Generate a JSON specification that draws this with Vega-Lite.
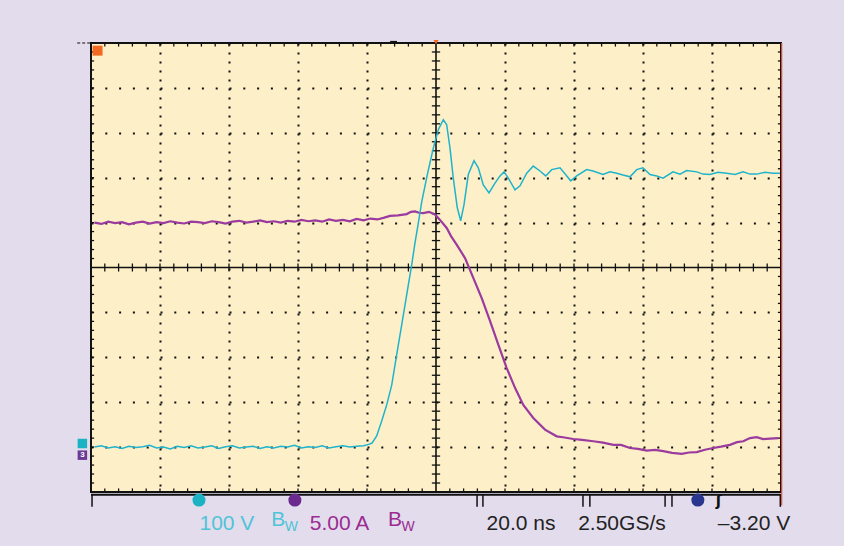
{
  "$schema": "https://vega.github.io/schema/vega-lite/v6.json",
  "width": 690,
  "height": 449,
  "autosize": {"type": "none"},
  "padding": {"left": 91, "top": 43, "right": 63, "bottom": 54},
  "background": "#e3dcec",
  "config": {
    "view": {"fill": "#fdf0c8", "stroke": "#111111", "strokeWidth": 2},
    "font": "Liberation Sans"
  },
  "datasets": {
    "one": [{"k": 1}],
    "ch1": [
      {"t": -99, "v": -4.00}, {"t": -97, "v": -3.97}, {"t": -95, "v": -4.02}, {"t": -93, "v": -3.99},
      {"t": -91, "v": -4.03}, {"t": -89, "v": -3.98}, {"t": -87, "v": -4.01}, {"t": -85, "v": -3.99},
      {"t": -83, "v": -3.96}, {"t": -81, "v": -4.02}, {"t": -79, "v": -4.00}, {"t": -77, "v": -4.04},
      {"t": -75, "v": -3.98}, {"t": -73, "v": -4.01}, {"t": -71, "v": -3.97}, {"t": -69, "v": -4.02},
      {"t": -67, "v": -4.00}, {"t": -65, "v": -3.97}, {"t": -63, "v": -4.03}, {"t": -61, "v": -3.99},
      {"t": -59, "v": -3.97}, {"t": -57, "v": -4.02}, {"t": -55, "v": -4.00}, {"t": -53, "v": -3.98},
      {"t": -51, "v": -4.03}, {"t": -49, "v": -3.99}, {"t": -47, "v": -4.02}, {"t": -45, "v": -3.98},
      {"t": -43, "v": -4.00}, {"t": -41, "v": -3.96}, {"t": -39, "v": -4.02}, {"t": -37, "v": -3.99},
      {"t": -35, "v": -4.01}, {"t": -33, "v": -3.97}, {"t": -31, "v": -4.02}, {"t": -29, "v": -3.99},
      {"t": -27, "v": -3.97}, {"t": -25, "v": -4.00}, {"t": -23, "v": -3.98}, {"t": -21, "v": -3.97},
      {"t": -19.5, "v": -3.94}, {"t": -18.55, "v": -3.91}, {"t": -17.19, "v": -3.75}, {"t": -15.74, "v": -3.42},
      {"t": -14.29, "v": -3.06}, {"t": -12.84, "v": -2.62}, {"t": -11.88, "v": -2.17}, {"t": -10.93, "v": -1.73},
      {"t": -9.94, "v": -1.28}, {"t": -8.99, "v": -0.84}, {"t": -8.03, "v": -0.39}, {"t": -7.04, "v": 0.06},
      {"t": -6.09, "v": 0.55}, {"t": -5.13, "v": 0.99}, {"t": -4.14, "v": 1.46}, {"t": -3.19, "v": 1.82},
      {"t": -2.23, "v": 2.17}, {"t": -0.78, "v": 2.66}, {"t": 0.67, "v": 3.07}, {"t": 2.12, "v": 3.29},
      {"t": 3.10, "v": 3.18}, {"t": 4.06, "v": 2.66}, {"t": 5.01, "v": 1.99}, {"t": 6.17, "v": 1.33},
      {"t": 7.16, "v": 1.04}, {"t": 8.12, "v": 1.40}, {"t": 9.36, "v": 2.07}, {"t": 11.01, "v": 2.38},
      {"t": 12.26, "v": 2.22}, {"t": 13.71, "v": 1.84}, {"t": 15.36, "v": 1.66}, {"t": 17.10, "v": 1.88},
      {"t": 18.55, "v": 2.04}, {"t": 19.71, "v": 2.13}, {"t": 20.96, "v": 1.99}, {"t": 22.90, "v": 1.73},
      {"t": 24.35, "v": 1.82}, {"t": 26.29, "v": 2.10}, {"t": 28.20, "v": 2.26}, {"t": 30.14, "v": 2.15},
      {"t": 31.80, "v": 2.04}, {"t": 33.54, "v": 2.18}, {"t": 35.94, "v": 2.22}, {"t": 37.68, "v": 2.06},
      {"t": 39.04, "v": 1.93}, {"t": 40.78, "v": 2.04}, {"t": 43.68, "v": 2.18}, {"t": 45.51, "v": 2.15},
      {"t": 48.41, "v": 2.07}, {"t": 50.43, "v": 2.13}, {"t": 52.38, "v": 2.10}, {"t": 54.20, "v": 2.06},
      {"t": 56.23, "v": 2.02}, {"t": 58.17, "v": 2.18}, {"t": 60.00, "v": 2.22}, {"t": 62.03, "v": 2.07},
      {"t": 63.97, "v": 2.04}, {"t": 65.80, "v": 1.99}, {"t": 68.70, "v": 2.13}, {"t": 70.72, "v": 2.08},
      {"t": 72.67, "v": 2.16}, {"t": 75.57, "v": 2.13}, {"t": 77.39, "v": 2.08}, {"t": 79.42, "v": 2.07},
      {"t": 81.74, "v": 2.12}, {"t": 84.26, "v": 2.10}, {"t": 86.67, "v": 2.07}, {"t": 88.99, "v": 2.13},
      {"t": 91.01, "v": 2.08}, {"t": 92.96, "v": 2.08}, {"t": 95.36, "v": 2.12}, {"t": 97.68, "v": 2.10},
      {"t": 99.71, "v": 2.10}
    ],
    "ch3": [
      {"t": -99, "v": 1.00}, {"t": -97, "v": 0.97}, {"t": -95, "v": 1.02}, {"t": -93, "v": 0.99},
      {"t": -91, "v": 1.01}, {"t": -89, "v": 0.96}, {"t": -87, "v": 1.00}, {"t": -85, "v": 1.02},
      {"t": -83, "v": 0.98}, {"t": -81, "v": 1.01}, {"t": -79, "v": 0.99}, {"t": -77, "v": 1.03},
      {"t": -75, "v": 1.00}, {"t": -73, "v": 0.98}, {"t": -71, "v": 1.02}, {"t": -69, "v": 1.01},
      {"t": -67, "v": 0.99}, {"t": -65, "v": 1.03}, {"t": -63, "v": 1.01}, {"t": -61, "v": 0.98},
      {"t": -59, "v": 1.02}, {"t": -57, "v": 1.04}, {"t": -55, "v": 1.00}, {"t": -53, "v": 1.02},
      {"t": -51, "v": 1.05}, {"t": -49, "v": 1.01}, {"t": -47, "v": 1.03}, {"t": -45, "v": 1.00},
      {"t": -43, "v": 1.04}, {"t": -41, "v": 1.02}, {"t": -39, "v": 1.06}, {"t": -37, "v": 1.03},
      {"t": -35, "v": 1.05}, {"t": -33, "v": 1.02}, {"t": -31, "v": 1.07}, {"t": -29, "v": 1.04},
      {"t": -27, "v": 1.06}, {"t": -25, "v": 1.03}, {"t": -23, "v": 1.08}, {"t": -21, "v": 1.05},
      {"t": -19, "v": 1.09}, {"t": -17, "v": 1.07}, {"t": -15, "v": 1.11}, {"t": -13.33, "v": 1.15},
      {"t": -11.01, "v": 1.16}, {"t": -8.49, "v": 1.19}, {"t": -7.25, "v": 1.24}, {"t": -6.09, "v": 1.25},
      {"t": -4.93, "v": 1.22}, {"t": -3.68, "v": 1.21}, {"t": -2.03, "v": 1.24}, {"t": -0.29, "v": 1.18},
      {"t": 1.16, "v": 1.06}, {"t": 3.10, "v": 0.88}, {"t": 4.35, "v": 0.70}, {"t": 5.99, "v": 0.51},
      {"t": 8.41, "v": 0.21}, {"t": 10.81, "v": -0.23}, {"t": 13.25, "v": -0.68}, {"t": 15.65, "v": -1.19},
      {"t": 18.06, "v": -1.72}, {"t": 20.49, "v": -2.24}, {"t": 22.90, "v": -2.68}, {"t": 25.30, "v": -3.06},
      {"t": 28.20, "v": -3.35}, {"t": 31.59, "v": -3.61}, {"t": 34.99, "v": -3.76}, {"t": 36.81, "v": -3.78},
      {"t": 39.80, "v": -3.82}, {"t": 42.32, "v": -3.84}, {"t": 45.59, "v": -3.87}, {"t": 48.41, "v": -3.90},
      {"t": 51.39, "v": -3.95}, {"t": 53.62, "v": -3.95}, {"t": 56.23, "v": -4.02}, {"t": 58.55, "v": -4.04},
      {"t": 61.07, "v": -4.08}, {"t": 63.48, "v": -4.06}, {"t": 65.88, "v": -4.09}, {"t": 68.41, "v": -4.13},
      {"t": 71.22, "v": -4.15}, {"t": 73.33, "v": -4.12}, {"t": 75.57, "v": -4.11}, {"t": 77.97, "v": -4.06},
      {"t": 80.38, "v": -4.02}, {"t": 82.61, "v": -3.99}, {"t": 85.22, "v": -3.95}, {"t": 87.25, "v": -3.89},
      {"t": 89.07, "v": -3.87}, {"t": 91.01, "v": -3.80}, {"t": 92.96, "v": -3.78}, {"t": 94.78, "v": -3.82},
      {"t": 96.81, "v": -3.81}, {"t": 99.22, "v": -3.80}
    ],
    "xminor": [
      {"t": -96}, {"t": -92}, {"t": -88}, {"t": -84}, {"t": -80}, {"t": -76}, {"t": -72}, {"t": -68}, {"t": -64},
      {"t": -60}, {"t": -56}, {"t": -52}, {"t": -48}, {"t": -44}, {"t": -40}, {"t": -36}, {"t": -32}, {"t": -28}, {"t": -24},
      {"t": -20}, {"t": -16}, {"t": -12}, {"t": -8}, {"t": -4}, {"t": 4}, {"t": 8}, {"t": 12}, {"t": 16},
      {"t": 20}, {"t": 24}, {"t": 28}, {"t": 32}, {"t": 36}, {"t": 40}, {"t": 44}, {"t": 48}, {"t": 52}, {"t": 56},
      {"t": 60}, {"t": 64}, {"t": 68}, {"t": 72}, {"t": 76}, {"t": 80}, {"t": 84}, {"t": 88}, {"t": 92}, {"t": 96}
    ],
    "yminor": [
      {"v": -4.8}, {"v": -4.6}, {"v": -4.4}, {"v": -4.2}, {"v": -4}, {"v": -3.8}, {"v": -3.6}, {"v": -3.4}, {"v": -3.2},
      {"v": -3}, {"v": -2.8}, {"v": -2.6}, {"v": -2.4}, {"v": -2.2}, {"v": -2}, {"v": -1.8}, {"v": -1.6}, {"v": -1.4}, {"v": -1.2},
      {"v": -1}, {"v": -0.8}, {"v": -0.6}, {"v": -0.4}, {"v": -0.2}, {"v": 0.2}, {"v": 0.4}, {"v": 0.6}, {"v": 0.8},
      {"v": 1}, {"v": 1.2}, {"v": 1.4}, {"v": 1.6}, {"v": 1.8}, {"v": 2}, {"v": 2.2}, {"v": 2.4}, {"v": 2.6}, {"v": 2.8},
      {"v": 3}, {"v": 3.2}, {"v": 3.4}, {"v": 3.6}, {"v": 3.8}, {"v": 4}, {"v": 4.2}, {"v": 4.4}, {"v": 4.6}, {"v": 4.8}
    ],
    "labels": [
      {"t": -60.6, "v": -5.85, "text": "100 V", "c": "cyan", "s": "big"},
      {"t": -45.7, "v": -5.75, "text": "B", "c": "cyan", "s": "big"},
      {"t": -41.9, "v": -5.87, "text": "W", "c": "cyan", "s": "small"},
      {"t": -27.97, "v": -5.85, "text": "5.00 A", "c": "purple", "s": "big"},
      {"t": -11.9, "v": -5.75, "text": "B", "c": "purple", "s": "big"},
      {"t": -8.1, "v": -5.87, "text": "W", "c": "purple", "s": "small"},
      {"t": 24.64, "v": -5.85, "text": "20.0 ns", "c": "black", "s": "big"},
      {"t": 53.9, "v": -5.85, "text": "2.50GS/s", "c": "black", "s": "big"},
      {"t": 92.17, "v": -5.85, "text": "\u20133.20 V", "c": "black", "s": "big"}
    ],
    "markers": [
      {"t": -68.7, "v": -5.18, "c": "cyan"},
      {"t": -40.9, "v": -5.18, "c": "purple"},
      {"t": 75.9, "v": -5.18, "c": "navy"}
    ],
    "brackets": [
      {"t": -99.7}, {"t": 11.9}, {"t": 13.6}, {"t": 42.6}, {"t": 44.6}, {"t": 66.4}, {"t": 68.4}, {"t": 99.8}
    ]
  },
  "encoding": {
    "x": {"type": "quantitative", "scale": {"domain": [-100, 100], "nice": false, "zero": false},
      "axis": {"title": null, "labels": false, "ticks": false, "domain": false, "grid": true,
        "values": [-80, -60, -40, -20, 20, 40, 60, 80], "gridColor": "#111111", "gridWidth": 2, "gridDash": [2, 7], "gridOpacity": 1}},
    "y": {"type": "quantitative", "scale": {"domain": [-5, 5], "nice": false, "zero": false},
      "axis": {"title": null, "labels": false, "ticks": false, "domain": false, "grid": true,
        "values": [-4, -3, -2, -1, 1, 2, 3, 4], "gridColor": "#111111", "gridWidth": 2, "gridDash": [2, 11.8], "gridOpacity": 1}}
  },
  "layer": [
    {"data": {"name": "one"}, "mark": {"type": "rule", "color": "#111111", "strokeWidth": 1.6}, "encoding": {"x": {"datum": 0}}},
    {"data": {"name": "one"}, "mark": {"type": "rule", "color": "#111111", "strokeWidth": 1.6}, "encoding": {"y": {"datum": 0}}},
    {"data": {"name": "xminor"}, "mark": {"type": "rule", "color": "#111111", "strokeWidth": 1.3},
      "encoding": {"x": {"field": "t"}, "y": {"datum": -0.09}, "y2": {"datum": 0.09}}},
    {"data": {"name": "yminor"}, "mark": {"type": "rule", "color": "#111111", "strokeWidth": 1.3},
      "encoding": {"y": {"field": "v"}, "x": {"datum": -1.2}, "x2": {"datum": 1.2}}},
    {"data": {"name": "xminor"}, "mark": {"type": "rule", "color": "#111111", "strokeWidth": 1.3},
      "encoding": {"x": {"field": "t"}, "y": {"datum": 5}, "y2": {"datum": 4.92}}},
    {"data": {"name": "xminor"}, "mark": {"type": "rule", "color": "#111111", "strokeWidth": 1.3},
      "encoding": {"x": {"field": "t"}, "y": {"datum": -5}, "y2": {"datum": -4.92}}},
    {"data": {"name": "yminor"}, "mark": {"type": "rule", "color": "#111111", "strokeWidth": 1.3},
      "encoding": {"y": {"field": "v"}, "x": {"datum": -100}, "x2": {"datum": -99.1}}},
    {"data": {"name": "yminor"}, "mark": {"type": "rule", "color": "#111111", "strokeWidth": 1.3},
      "encoding": {"y": {"field": "v"}, "x": {"datum": 100}, "x2": {"datum": 99.1}}},
    {"data": {"name": "ch3"}, "mark": {"type": "line", "color": "#9b3a9f", "strokeWidth": 2.2, "interpolate": "linear"},
      "encoding": {"x": {"field": "t"}, "y": {"field": "v"}}},
    {"data": {"name": "ch1"}, "mark": {"type": "line", "color": "#1fb3cc", "strokeWidth": 1.5, "interpolate": "linear"},
      "encoding": {"x": {"field": "t"}, "y": {"field": "v"}}},
    {"data": {"name": "one"}, "mark": {"type": "rule", "color": "#111111", "strokeWidth": 2}, "encoding": {"x": {"datum": -100}, "x2": {"datum": 100}, "y": {"datum": -5.06}}},
    {"data": {"name": "one"}, "mark": {"type": "rule", "color": "#e05a40", "strokeWidth": 1.2}, "encoding": {"x": {"datum": 100.2}, "y": {"datum": -5.3}, "y2": {"datum": 5}}},
    {"data": {"name": "brackets"}, "mark": {"type": "rule", "color": "#111111", "strokeWidth": 1.5},
      "encoding": {"x": {"field": "t"}, "y": {"datum": -5.06}, "y2": {"datum": -5.33}}},
    {"data": {"name": "markers"}, "mark": {"type": "point", "shape": "circle", "filled": true, "size": 170, "opacity": 1},
      "encoding": {"x": {"field": "t"}, "y": {"field": "v"},
        "color": {"field": "c", "type": "nominal", "scale": {"domain": ["cyan", "purple", "navy"], "range": ["#1bb3c3", "#6a2a8e", "#2a3590"]}, "legend": null}}},
    {"data": {"name": "one"}, "mark": {"type": "point", "shape": "square", "filled": true, "size": 100, "color": "#f26a21", "opacity": 1},
      "encoding": {"x": {"datum": -98.1}, "y": {"datum": 4.83}}},
    {"data": {"name": "one"}, "mark": {"type": "point", "shape": "triangle-down", "filled": true, "size": 25, "color": "#f26a21", "opacity": 1},
      "encoding": {"x": {"datum": 0}, "y": {"datum": 5.02}}},
    {"data": {"name": "one"}, "mark": {"type": "rule", "color": "#111111", "strokeWidth": 1.2, "strokeDash": [3, 2]},
      "encoding": {"x": {"datum": -104}, "x2": {"datum": -100}, "y": {"datum": 5.0}}},
    {"data": {"name": "one"}, "mark": {"type": "rule", "color": "#111111", "strokeWidth": 1.5},
      "encoding": {"x": {"datum": -13.3}, "x2": {"datum": -11.3}, "y": {"datum": 5.03}}},
    {"data": {"name": "one"}, "mark": {"type": "point", "shape": "square", "filled": true, "size": 90, "color": "#1bb3c3", "opacity": 1},
      "encoding": {"x": {"datum": -102.5}, "y": {"datum": -3.92}}},
    {"data": {"name": "one"}, "mark": {"type": "point", "shape": "square", "filled": true, "size": 90, "color": "#6a3a95", "opacity": 1},
      "encoding": {"x": {"datum": -102.5}, "y": {"datum": -4.18}}},
    {"data": {"name": "one"}, "mark": {"type": "text", "text": "3", "color": "#ffffff", "fontSize": 8, "fontWeight": "bold", "align": "center", "baseline": "middle"},
      "encoding": {"x": {"datum": -102.5}, "y": {"datum": -4.18}}},
    {"data": {"name": "one"}, "mark": {"type": "text", "text": "\u0283", "color": "#111111", "fontSize": 15, "fontWeight": "bold", "align": "center", "baseline": "middle", "font": "DejaVu Sans"},
      "encoding": {"x": {"datum": 82}, "y": {"datum": -5.2}}},
    {"data": {"name": "labels"}, "mark": {"type": "text", "align": "center", "baseline": "alphabetic"},
      "encoding": {"x": {"field": "t"}, "y": {"field": "v"}, "text": {"field": "text"},
        "color": {"field": "c", "type": "nominal", "scale": {"domain": ["cyan", "purple", "black"], "range": ["#4fc4d8", "#9a2c92", "#222222"]}, "legend": null},
        "size": {"field": "s", "type": "nominal", "scale": {"domain": ["big", "small"], "range": [21, 14]}, "legend": null}}}
  ],
  "resolve": {"scale": {"color": "independent"}}
}
